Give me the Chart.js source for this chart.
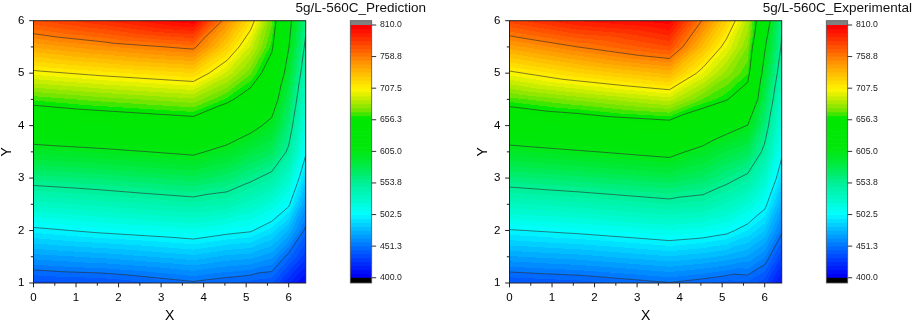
<!DOCTYPE html>
<html>
<head>
<meta charset="utf-8">
<script src="https://cdn.jsdelivr.net/npm/chart.js@4.4.1/dist/chart.umd.min.js"></script>
<style>
  html, body { margin: 0; padding: 0; background: #fff; }
  body { width: 913px; height: 324px; position: relative; overflow: hidden; }
  canvas { position: absolute; top: 0; }
</style>
</head>
<body>
<canvas id="predChart" width="426" height="324" style="left:0"></canvas>
<canvas id="expChart" width="436" height="324" style="left:476px"></canvas>
<script>
// grid nodes (x across, y up)
const gridX = [0, 1.6, 3.76, 4.55, 5.1, 5.6, 6.0, 6.4];
const gridY = [1, 1.5, 2, 2.5, 3, 3.5, 4, 4.5, 5, 5.5, 6];

// values per row, bottom row (y=1) first
const predictionZ = [
  [435.5, 438.5, 449.4, 445, 442, 440, 420, 405],
  [467.1, 472.2, 481.0, 475, 473, 466, 447, 428],
  [498.8, 505.6, 512.8, 507, 504, 493, 476, 448],
  [530.7, 536.5, 544.8, 540, 530.9, 520, 505, 467],
  [562.9, 568.1, 576.9, 569, 557.9, 547, 527, 487],
  [595.3, 600.5, 609.1, 597, 585, 575, 550, 505],
  [628.9, 635.2, 643.3, 627, 613.4, 598, 565, 516],
  [664.2, 672.1, 680.4, 661, 645, 621, 578, 527],
  [703.6, 711.4, 720.1, 693, 670.7, 643, 592, 538],
  [740.4, 750.9, 762.3, 723, 693, 660, 606, 549],
  [777.1, 790.3, 809, 750, 716, 671, 614, 560]
];

const experimentalZ = [
  [438, 441.6, 450.7, 446, 442, 443.4, 434, 410],
  [469.6, 474, 482.7, 478.9, 475, 469.6, 458.7, 432],
  [501.3, 506.3, 514.8, 511.6, 506.8, 495.7, 483.3, 454],
  [532.9, 538.4, 547.3, 543.6, 533.8, 522.3, 507, 472],
  [564.6, 570.7, 579.4, 571.6, 560.3, 549, 527.7, 491],
  [596.1, 603, 612, 597, 585.4, 576.6, 548.4, 506],
  [630.3, 638, 647.1, 631.8, 614.7, 604.4, 564.5, 517],
  [666.2, 677.5, 691.4, 668.6, 657.6, 642.5, 579, 528],
  [704.4, 719.9, 735.2, 701, 679.3, 663.6, 593.5, 540],
  [742.7, 758.8, 777.6, 730.6, 701, 675, 608, 551],
  [781, 797.6, 808, 757, 722.7, 686.5, 627.6, 558]
];

const xTicks = [0, 1, 2, 3, 4, 5, 6];
const yTicks = [1, 2, 3, 4, 5, 6];
const zLevels = [400.0, 451.3, 502.5, 553.8, 605.0, 656.3, 707.5, 758.8, 810.0];

Chart.defaults.font.family = '"Liberation Sans", Arial, sans-serif';
Chart.defaults.color = '#000';

const SUB = 8; // colour bands per level step
const palette = [
  [400, [0, 0, 245]],
  [425, [0, 55, 255]],
  [451.3, [0, 120, 255]],
  [480, [0, 195, 255]],
  [502.5, [0, 255, 255]],
  [525, [0, 250, 205]],
  [553.8, [0, 240, 150]],
  [585, [0, 234, 60]],
  [610, [0, 232, 10]],
  [660, [0, 232, 0]],
  [672, [110, 228, 0]],
  [690, [190, 236, 0]],
  [707.5, [255, 245, 0]],
  [735, [255, 185, 0]],
  [758.8, [255, 128, 0]],
  [785, [255, 62, 0]],
  [810, [255, 0, 0]]
];

function paletteAt(v) {
  if (v <= palette[0][0]) return palette[0][1];
  for (let i = 1; i < palette.length; i++) {
    if (v <= palette[i][0]) {
      const [v0, c0] = palette[i - 1], [v1, c1] = palette[i];
      const t = (v - v0) / (v1 - v0);
      return c0.map((c, k) => Math.round(c + t * (c1[k] - c)));
    }
  }
  return palette[palette.length - 1][1];
}

const zMin = zLevels[0], zMax = zLevels[zLevels.length - 1];
const nBands = (zLevels.length - 1) * SUB;
const bandStep = (zMax - zMin) / nBands;
const bandColors = [];
for (let k = 0; k < nBands; k++) bandColors.push(paletteAt(zMin + k * (zMax - zMin) / (nBands - 1)));

function bandColor(v) {
  if (v < zMin) return [0, 0, 0];
  if (v > zMax) return [128, 128, 128];
  return bandColors[Math.min(nBands - 1, Math.floor((v - zMin) / bandStep))];
}

function locate(arr, v) {
  let i = 0;
  while (i < arr.length - 2 && v > arr[i + 1]) i++;
  return i;
}

// linear interpolation on triangles (each cell split along its rising diagonal)
function sampleGrid(z, xv, yv) {
  const i = locate(gridX, xv), j = locate(gridY, yv);
  const u = Math.min(1, Math.max(0, (xv - gridX[i]) / (gridX[i + 1] - gridX[i])));
  const t = Math.min(1, Math.max(0, (yv - gridY[j]) / (gridY[j + 1] - gridY[j])));
  const z00 = z[j][i], z10 = z[j][i + 1], z01 = z[j + 1][i], z11 = z[j + 1][i + 1];
  if (u >= t) return z00 + u * (z10 - z00) + t * (z11 - z10);
  return z00 + t * (z01 - z00) + u * (z11 - z01);
}

function contourSegments(z, level) {
  const segs = [];
  for (let j = 0; j < gridY.length - 1; j++) {
    for (let i = 0; i < gridX.length - 1; i++) {
      const p00 = [gridX[i], gridY[j], z[j][i]];
      const p10 = [gridX[i + 1], gridY[j], z[j][i + 1]];
      const p01 = [gridX[i], gridY[j + 1], z[j + 1][i]];
      const p11 = [gridX[i + 1], gridY[j + 1], z[j + 1][i + 1]];
      for (const tri of [[p00, p10, p11], [p00, p01, p11]]) {
        const pts = [];
        for (let e = 0; e < 3; e++) {
          const a = tri[e], b = tri[(e + 1) % 3];
          const da = a[2] - level, db = b[2] - level;
          if ((da < 0 && db >= 0) || (da >= 0 && db < 0)) {
            const f = da / (da - db);
            pts.push([a[0] + f * (b[0] - a[0]), a[1] + f * (b[1] - a[1])]);
          }
        }
        if (pts.length === 2) segs.push(pts);
      }
    }
  }
  return segs;
}

const contourPlugin = {
  id: 'contour',
  beforeDatasetsDraw(chart, args, opts) {
    const { ctx, chartArea: a, scales: { x, y } } = chart;
    const off = document.createElement('canvas');
    off.width = chart.width; off.height = chart.height;
    const octx = off.getContext('2d');
    const img = octx.createImageData(off.width, off.height);
    for (let py = Math.floor(a.top); py < Math.ceil(a.bottom); py++) {
      const yv = y.getValueForPixel(py + 0.5);
      for (let px = Math.floor(a.left); px < Math.ceil(a.right); px++) {
        const c = bandColor(sampleGrid(opts.z, x.getValueForPixel(px + 0.5), yv));
        const o = (py * off.width + px) * 4;
        img.data[o] = c[0]; img.data[o + 1] = c[1]; img.data[o + 2] = c[2]; img.data[o + 3] = 255;
      }
    }
    octx.putImageData(img, 0, 0);
    ctx.save();
    ctx.beginPath();
    ctx.rect(a.left, a.top, a.right - a.left, a.bottom - a.top);
    ctx.clip();
    ctx.drawImage(off, 0, 0);
    // contour lines
    ctx.strokeStyle = 'rgba(45,45,45,0.75)';
    ctx.lineWidth = 0.8;
    ctx.beginPath();
    for (const level of zLevels.slice(1, -1)) {
      for (const [p, q] of contourSegments(opts.z, level)) {
        ctx.moveTo(x.getPixelForValue(p[0]), y.getPixelForValue(p[1]));
        ctx.lineTo(x.getPixelForValue(q[0]), y.getPixelForValue(q[1]));
      }
    }
    ctx.stroke();
    ctx.restore();
  },
  afterDraw(chart) {
    const { ctx, chartArea: a, scales: { x, y, z } } = chart;
    ctx.save();
    // frame
    ctx.strokeStyle = '#222';
    ctx.lineWidth = 1;
    ctx.strokeRect(a.left, a.top, a.right - a.left, a.bottom - a.top);
    // major and minor ticks
    ctx.beginPath();
    xTicks.forEach((v, i) => {
      const px = x.getPixelForValue(v);
      ctx.moveTo(px, a.bottom); ctx.lineTo(px, a.bottom + 4.3);
      if (i < xTicks.length - 1) {
        const mx = x.getPixelForValue((v + xTicks[i + 1]) / 2);
        ctx.moveTo(mx, a.bottom); ctx.lineTo(mx, a.bottom + 2.7);
      }
    });
    yTicks.forEach((v, i) => {
      const py = y.getPixelForValue(v);
      ctx.moveTo(a.left, py); ctx.lineTo(a.left - 4.3, py);
      if (i < yTicks.length - 1) {
        const my = y.getPixelForValue((v + yTicks[i + 1]) / 2);
        ctx.moveTo(a.left, my); ctx.lineTo(a.left - 2.7, my);
      }
    });
    ctx.stroke();
    // colour bar
    const bl = a.right + 44.6, br = a.right + 66;
    for (let k = 0; k < nBands; k++) {
      const top = z.getPixelForValue(zMin + (k + 1) * bandStep);
      const bot = z.getPixelForValue(zMin + k * bandStep);
      const c = bandColors[k];
      ctx.fillStyle = `rgb(${c[0]},${c[1]},${c[2]})`;
      ctx.fillRect(bl, top - 0.3, br - bl, bot - top + 0.6);
    }
    ctx.fillStyle = '#808080';
    ctx.fillRect(bl, z.getPixelForValue(z.max), br - bl, z.getPixelForValue(zMax) - z.getPixelForValue(z.max));
    ctx.fillStyle = '#000';
    ctx.fillRect(bl, z.getPixelForValue(zMin), br - bl, z.getPixelForValue(z.min) - z.getPixelForValue(zMin));
    ctx.strokeStyle = '#555';
    ctx.lineWidth = 0.8;
    ctx.strokeRect(bl, z.getPixelForValue(z.max), br - bl, z.getPixelForValue(z.min) - z.getPixelForValue(z.max));
    ctx.strokeStyle = '#333';
    ctx.lineWidth = 1;
    ctx.beginPath();
    zLevels.forEach(v => {
      const py = z.getPixelForValue(v);
      ctx.moveTo(br, py); ctx.lineTo(br + 4.5, py);
    });
    ctx.stroke();
    ctx.restore();
  }
};

function makeChart(id, title, z) {
  const canvas = document.getElementById(id);
  const barAxisWidth = canvas.width - 305.7;
  return new Chart(canvas, {
    type: 'scatter',
    data: { datasets: [{ data: [], pointRadius: 0 }] },
    options: {
      responsive: false,
      animation: false,
      events: [],
      layout: { padding: 0 },
      plugins: {
        legend: { display: false },
        tooltip: { enabled: false },
        title: {
          display: true, text: title, align: 'end', color: '#111',
          font: { size: 13.5, weight: 'normal' },
          padding: { top: 0, bottom: 4.5 }
        },
        contour: { z }
      },
      scales: {
        x: {
          type: 'linear', min: 0, max: 6.4,
          afterBuildTicks: s => { s.ticks = xTicks.map(v => ({ value: v })); },
          afterFit: s => { s.height = 41; },
          grid: { display: false, drawTicks: false },
          border: { display: false },
          ticks: { padding: 7.5, autoSkip: false, maxRotation: 0, font: { size: 11.5 } },
          title: { display: true, text: 'X', font: { size: 14, lineHeight: 1 }, padding: { top: 0, bottom: 1 } }
        },
        y: {
          type: 'linear', min: 1, max: 6,
          afterBuildTicks: s => { s.ticks = yTicks.map(v => ({ value: v })); },
          afterFit: s => { s.width = 33.5; },
          grid: { display: false, drawTicks: false },
          border: { display: false },
          ticks: { padding: 9, autoSkip: false, font: { size: 11.5 } },
          title: { display: true, text: 'Y', font: { size: 14, lineHeight: 1 }, padding: 0 }
        },
        z: {
          type: 'linear', position: 'right', min: 391.5, max: 817,
          afterBuildTicks: s => { s.ticks = zLevels.map(v => ({ value: v })); },
          afterFit: s => { s.width = barAxisWidth; },
          // invisible long tick marks push the labels beside the colour bar
          grid: { display: true, drawOnChartArea: false, drawTicks: true, tickLength: 71.3, tickColor: 'rgba(0,0,0,0)' },
          border: { display: false },
          ticks: { padding: 3, autoSkip: false, color: '#222', font: { size: 8.7 }, callback: v => v.toFixed(1) }
        }
      }
    },
    plugins: [contourPlugin]
  });
}

makeChart('predChart', '5g/L-560C_Prediction', predictionZ);
makeChart('expChart', '5g/L-560C_Experimental', experimentalZ);
</script>
</body>
</html>
